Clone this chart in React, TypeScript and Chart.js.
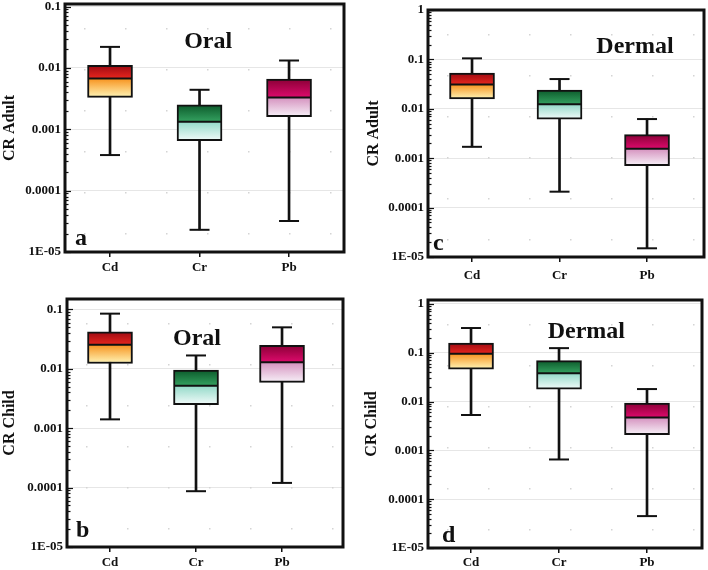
import React, { useEffect, useRef } from 'react';
import { Chart, registerables } from 'chart.js';

Chart.register(...registerables);

// ---------- data ----------
const categories = ['Cd', 'Cr', 'Pb'];
const categoryPositions = [0, 1, 2];

// (a) CR Adult, Oral
const adultOralMin = [0.00038, 0.000023, 0.000032];
const adultOralQ1 = [0.0033, 0.00065, 0.0016];
const adultOralMedian = [0.0067, 0.00133, 0.0033];
const adultOralQ3 = [0.011, 0.0025, 0.0066];
const adultOralMax = [0.022, 0.0044, 0.0132];

// (c) CR Adult, Dermal
const adultDermalMin = [0.0017, 0.00021, 0.000015];
const adultDermalQ1 = [0.0158, 0.0062, 0.00071];
const adultDermalMedian = [0.031, 0.0124, 0.00155];
const adultDermalQ3 = [0.053, 0.024, 0.003];
const adultDermalMax = [0.105, 0.04, 0.0062];

// (b) CR Child, Oral
const childOralMin = [0.00141, 0.000087, 0.00012];
const childOralQ1 = [0.0123, 0.0025, 0.0059];
const childOralMedian = [0.0254, 0.0052, 0.0129];
const childOralQ3 = [0.042, 0.0095, 0.025];
const childOralMax = [0.085, 0.0168, 0.05];

// (d) CR Child, Dermal
const childDermalMin = [0.0053, 0.00065, 0.000045];
const childDermalQ1 = [0.046, 0.018, 0.0021];
const childDermalMedian = [0.095, 0.038, 0.0047];
const childDermalQ3 = [0.158, 0.069, 0.0093];
const childDermalMax = [0.32, 0.124, 0.018];

// tick values / labels
const oralTickValues = [0.00001, 0.0001, 0.001, 0.01, 0.1];
const oralTickLabels = ['1E-05', '0.0001', '0.001', '0.01', '0.1'];
const dermalTickValues = [0.00001, 0.0001, 0.001, 0.01, 0.1, 1];
const dermalTickLabels = ['1E-05', '0.0001', '0.001', '0.01', '0.1', '1'];

// ---------- styles ----------
const FONT = '"Liberation Serif", "Times New Roman", serif';
const INK = '#111111';
// gradient stops per category: top, just above median, just below median, bottom
const boxStops = [
  ['#9c0a12', '#e8261e', '#f7931f', '#fff6b8'],
  ['#0c5a2b', '#34a160', '#93d9c8', '#f2fbfa'],
  ['#8a0036', '#dd0a6c', '#d592bf', '#f7f1f8'],
];

type Stats = { min: number[]; q1: number[]; med: number[]; q3: number[]; max: number[] };
type PanelCfg = {
  key: string;
  left: number; top: number; width: number; height: number;
  area: { l: number; t: number; r: number; b: number };
  yMax: number; xMin: number; xMax: number;
  yTitle: string; yTitlePad: number; xLabelPad: number;
  title: string; titleX: number; titleY: number;
  letter: string; letterX: number; letterY: number;
  stats: Stats; ticks: number[]; tickLabels: string[];
};

const panels: PanelCfg[] = [
  {
    key: 'a', left: 0, top: 0, width: 354, height: 285,
    area: { l: 65, t: 4, r: 344, b: 252 },
    yMax: 0.11, xMin: -0.503, xMax: 2.614,
    yTitle: 'CR Adult', yTitlePad: 0, xLabelPad: 3,
    title: 'Oral', titleX: 0.513, titleY: 0.179,
    letter: 'a', letterX: 0.036, letterY: 0.972,
    stats: { min: adultOralMin, q1: adultOralQ1, med: adultOralMedian, q3: adultOralQ3, max: adultOralMax },
    ticks: oralTickValues, tickLabels: oralTickLabels,
  },
  {
    key: 'c', left: 354, top: 0, width: 354, height: 285,
    area: { l: 74, t: 10, r: 350, b: 257 },
    yMax: 1, xMin: -0.503, xMax: 2.651,
    yTitle: 'CR Adult', yTitlePad: 10, xLabelPad: 6,
    title: 'Dermal', titleX: 0.75, titleY: 0.175,
    letter: 'c', letterX: 0.018, letterY: 0.972,
    stats: { min: adultDermalMin, q1: adultDermalQ1, med: adultDermalMedian, q3: adultDermalQ3, max: adultDermalMax },
    ticks: dermalTickValues, tickLabels: dermalTickLabels,
  },
  {
    key: 'b', left: 0, top: 285, width: 354, height: 285,
    area: { l: 67, t: 14, r: 343, b: 262 },
    yMax: 0.15, xMin: -0.5, xMax: 2.709,
    yTitle: 'CR Child', yTitlePad: 0, xLabelPad: 3,
    title: 'Oral', titleX: 0.471, titleY: 0.185,
    letter: 'b', letterX: 0.033, letterY: 0.96,
    stats: { min: childOralMin, q1: childOralQ1, med: childOralMedian, q3: childOralQ3, max: childOralMax },
    ticks: oralTickValues, tickLabels: oralTickLabels,
  },
  {
    key: 'd', left: 354, top: 285, width: 354, height: 285,
    area: { l: 74, t: 15, r: 348, b: 263 },
    yMax: 1.2, xMin: -0.489, xMax: 2.625,
    yTitle: 'CR Child', yTitlePad: 8, xLabelPad: 2,
    title: 'Dermal', titleX: 0.578, titleY: 0.154,
    letter: 'd', letterX: 0.051, letterY: 0.976,
    stats: { min: childDermalMin, q1: childDermalQ1, med: childDermalMedian, q3: childDermalQ3, max: childDermalMax },
    ticks: dermalTickValues, tickLabels: dermalTickLabels,
  },
];

function decoPlugin(p: PanelCfg) {
  return {
    id: 'deco_' + p.key,
    beforeDatasetsDraw(chart: any) {
      // faint background dot lattice
      const { ctx, chartArea } = chart;
      const { left: l, top: t, right: r, bottom: b } = chartArea;
      ctx.save();
      ctx.fillStyle = '#d4d4d4';
      for (let x = l + 19; x < r - 4; x += 41) {
        for (let y = t + 24; y < b - 4; y += 41) {
          ctx.fillRect(Math.round(x), Math.round(y), 1.5, 1.5);
        }
      }
      ctx.restore();
    },
    afterDatasetsDraw(chart: any) {
      const { ctx, chartArea } = chart;
      const ys = chart.scales.y;
      const { left: l, top: t, right: r, bottom: b } = chartArea;
      ctx.save();
      // minor / major ticks on the inside of the left edge
      ctx.strokeStyle = INK;
      ctx.lineWidth = 1.2;
      for (let n = -5; n <= 0; n++) {
        for (let k = 1; k <= 9; k++) {
          const v = k * Math.pow(10, n);
          if (v < ys.min * 0.999 || v > ys.max * 1.001) continue;
          const y = Math.round(ys.getPixelForValue(v)) + 0.5;
          const len = k === 1 ? 6 : 3.5;
          ctx.beginPath();
          ctx.moveTo(l, y);
          ctx.lineTo(l + len, y);
          ctx.stroke();
        }
      }
      // frame
      ctx.lineWidth = 3;
      ctx.strokeStyle = INK;
      ctx.strokeRect(l, t, r - l, b - t);
      // title text
      ctx.fillStyle = INK;
      ctx.textBaseline = 'alphabetic';
      ctx.textAlign = 'center';
      ctx.font = 'bold 24px ' + FONT;
      ctx.fillText(p.title, l + p.titleX * (r - l), t + p.titleY * (b - t));
      // panel letter
      ctx.textAlign = 'left';
      ctx.font = 'bold 24px ' + FONT;
      ctx.fillText(p.letter, l + p.letterX * (r - l), t + p.letterY * (b - t));
      ctx.restore();
    },
  };
}

function Panel({ p }: { p: PanelCfg }) {
  const ref = useRef<HTMLCanvasElement | null>(null);
  useEffect(() => {
    if (!ref.current) return;
    const s = p.stats;
    const boxFill = (c: any) => {
      const chart = c.chart;
      const ys = chart.scales && chart.scales.y;
      const i = c.dataIndex ?? 0;
      const st = boxStops[i] || boxStops[0];
      if (!chart.chartArea || c.type !== 'data' || !ys) return st[1];
      const top = ys.getPixelForValue(s.q3[i]);
      const bot = ys.getPixelForValue(s.q1[i]);
      const mid = ys.getPixelForValue(s.med[i]);
      if (!isFinite(top) || !isFinite(bot) || bot - top < 1) return st[1];
      const g = chart.ctx.createLinearGradient(0, top, 0, bot);
      const f = Math.min(0.98, Math.max(0.02, (mid - top) / (bot - top)));
      g.addColorStop(0, st[0]);
      g.addColorStop(f, st[1]);
      g.addColorStop(Math.min(1, f + 0.001), st[2]);
      g.addColorStop(1, st[3]);
      return g;
    };
    const tickFont = { family: FONT, size: 13, weight: 'bold' as const };
    const chart = new Chart(ref.current, {
      type: 'bar',
      data: {
        datasets: [
          {
            type: 'bar',
            label: 'whisker',
            data: categoryPositions.map((x, i) => ({ x, y: [s.min[i], s.max[i]] })) as any,
            backgroundColor: INK,
            borderWidth: 0,
            barThickness: 2,
            grouped: false,
            order: 3,
          } as any,
          {
            type: 'bar',
            label: 'box',
            data: categoryPositions.map((x, i) => ({ x, y: [s.q1[i], s.q3[i]] })) as any,
            backgroundColor: boxFill,
            borderColor: INK,
            borderWidth: 2,
            borderSkipped: false,
            barThickness: 45,
            grouped: false,
            order: 2,
          } as any,
          {
            type: 'line',
            label: 'median',
            data: categoryPositions.map((x, i) => ({ x, y: s.med[i] })),
            showLine: false,
            pointStyle: 'line',
            pointRadius: 22,
            pointBorderWidth: 2,
            pointBorderColor: INK,
            order: 1,
          } as any,
          {
            type: 'line',
            label: 'caps',
            data: [
              ...categoryPositions.map((x, i) => ({ x, y: s.min[i] })),
              ...categoryPositions.map((x, i) => ({ x, y: s.max[i] })),
            ],
            showLine: false,
            pointStyle: 'line',
            pointRadius: 10,
            pointBorderWidth: 2,
            pointBorderColor: INK,
            order: 1,
          } as any,
        ],
      },
      options: {
        animation: false,
        responsive: false,
        maintainAspectRatio: false,
        devicePixelRatio: 1,
        events: [],
        layout: {
          autoPadding: false,
          padding: { left: 0, top: p.area.t, right: p.width - p.area.r, bottom: 0 },
        },
        plugins: {
          legend: { display: false },
          tooltip: { enabled: false },
          title: { display: false },
        },
        scales: {
          x: {
            type: 'linear',
            min: p.xMin,
            max: p.xMax,
            offset: false,
            afterBuildTicks: (sc: any) => {
              sc.ticks = categoryPositions.map((v) => ({ value: v }));
            },
            afterFit: (sc: any) => {
              sc.height = p.height - p.area.b;
              sc.paddingLeft = 0;
              sc.paddingRight = 0;
            },
            ticks: {
              autoSkip: false,
              maxRotation: 0,
              color: INK,
              font: tickFont,
              padding: p.xLabelPad,
              callback: (v: any) => categories[Math.round(Number(v))] ?? '',
            },
            grid: {
              display: true,
              drawOnChartArea: false,
              drawTicks: true,
              tickLength: 5,
              color: INK,
              lineWidth: 1.5,
              offset: false,
            },
            border: { display: false },
          } as any,
          y: {
            type: 'logarithmic',
            min: 0.00001,
            max: p.yMax,
            afterBuildTicks: (sc: any) => {
              sc.ticks = p.ticks.map((v) => ({ value: v }));
            },
            afterFit: (sc: any) => {
              sc.width = p.area.l;
              sc.paddingTop = 0;
              sc.paddingBottom = 0;
            },
            ticks: {
              autoSkip: false,
              color: INK,
              font: tickFont,
              padding: 4,
              callback: (v: any) => {
                const idx = p.ticks.findIndex((t) => Math.abs(Math.log10(t) - Math.log10(Number(v))) < 1e-6);
                return idx >= 0 ? p.tickLabels[idx] : '';
              },
            },
            grid: { color: '#e6e6e6', lineWidth: 1, drawTicks: false },
            border: { display: false },
            title: {
              display: true,
              text: p.yTitle,
              color: INK,
              font: { family: FONT, size: 16, weight: 'bold' },
              padding: { top: p.yTitlePad, bottom: 0 },
            },
          } as any,
        },
      },
      plugins: [decoPlugin(p)],
    } as any);
    return () => chart.destroy();
  }, [p]);
  return (
    <canvas
      ref={ref}
      width={p.width}
      height={p.height}
      style={{ position: 'absolute', left: p.left, top: p.top, width: p.width, height: p.height }}
    />
  );
}

export default function App() {
  return (
    <div style={{ position: 'absolute', left: 0, top: 0, width: 708, height: 570, background: '#ffffff', overflow: 'hidden' }}>
      {panels.map((p) => (
        <Panel key={p.key} p={p} />
      ))}
    </div>
  );
}
